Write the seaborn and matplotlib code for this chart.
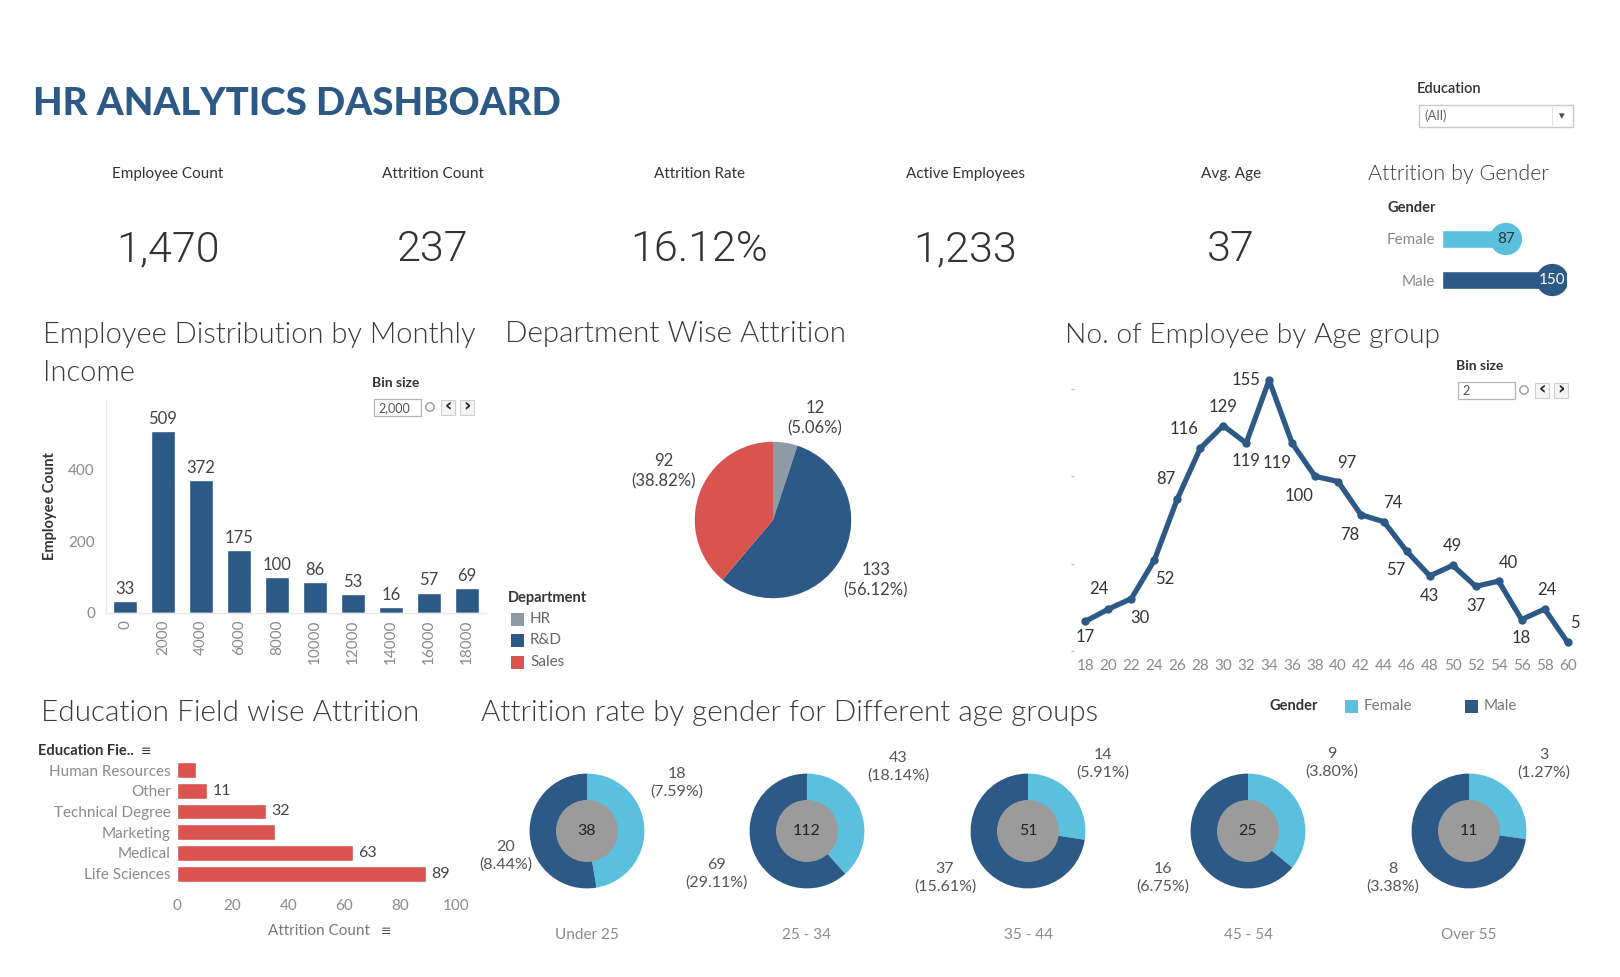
import pandas as pd
import seaborn as sns
import matplotlib.pyplot as plt
from matplotlib.patches import Rectangle, Circle

BLUE = '#2c5985'
LIGHT = '#5bc0de'
RED = '#d9534f'
HR_GREY = '#8e9aa6'
INNER = '#9b9b9b'
DARK = '#333333'

# KPI cards
kpi_names = ['Employee Count', 'Attrition Count', 'Attrition Rate', 'Active Employees', 'Avg. Age']
kpi_values = ['1,470', '237', '16.12%', '1,233', '37']

# attrition by gender
genders = ['Female', 'Male']
gender_attrition = [87, 150]

# monthly income histogram (bin size 2000)
income_bins = ['0', '2000', '4000', '6000', '8000', '10000', '12000', '14000', '16000', '18000']
income_counts = [33, 509, 372, 175, 100, 86, 53, 16, 57, 69]

# department wise attrition
departments = ['HR', 'R&D', 'Sales']
dept_attrition = [12, 133, 92]

# employees by age (bin size 2)
age_bins = [18, 20, 22, 24, 26, 28, 30, 32, 34, 36, 38, 40, 42, 44, 46, 48, 50, 52, 54, 56, 58, 60]
age_counts = [17, 24, 30, 52, 87, 116, 129, 119, 155, 119, 100, 97, 78, 74, 57, 43, 49, 37, 40, 18, 24, 5]

# education field wise attrition
edu_fields = ['Human Resources', 'Other', 'Technical Degree', 'Marketing', 'Medical', 'Life Sciences']
edu_attrition = [7, 11, 32, 35, 63, 89]
edu_shown = [False, True, True, False, True, True]

# attrition by gender per age group
age_groups = ['Under 25', '25 - 34', '35 - 44', '45 - 54', 'Over 55']
female_att = [18, 43, 14, 9, 3]
male_att = [20, 69, 37, 16, 8]

total_attrition = sum(dept_attrition)

sns.set_theme(style='white')
plt.rcParams['font.family'] = ['Lato', 'DejaVu Sans']

W, H = 1620, 977
fig = plt.figure(figsize=(W / 100, H / 100), dpi=100)
fig.patch.set_facecolor('white')
renderer = fig.canvas.get_renderer()

# overlay in pixel coords for texts / widgets, drawn above the chart panels
ov = fig.add_axes([0, 0, 1, 1])
ov.set_xlim(0, W)
ov.set_ylim(H, 0)
ov.axis('off')
ov.patch.set_visible(False)
ov.set_zorder(10)


def panel(x0, y0, x1, y1):
    return fig.add_axes([x0 / W, 1 - y1 / H, (x1 - x0) / W, (y1 - y0) / H])


def txt(x, y, s, size=11, color=DARK, **kw):
    kw.setdefault('ha', 'left')
    kw.setdefault('va', 'center')
    return ov.text(x, y, s, fontsize=size, color=color, **kw)


def fit(t, width):
    # scale font size so the text spans the given pixel width
    bb = t.get_window_extent(renderer=renderer)
    t.set_fontsize(t.get_fontsize() * width / bb.width)


def title(x, y, s, width):
    t = txt(x, y, s, size=20, fontweight=300, color='#3a3a3a')
    fit(t, width)


def bin_widget(x, y, value, box_w):
    txt(x, y, 'Bin size', size=10, fontweight='bold')
    ov.add_patch(Rectangle((x + 2, y + 16), box_w, 17, fc='white', ec='#b5b5b5', lw=0.9))
    txt(x + 6, y + 25, value, size=9, color='#555')
    bx = x + 2 + box_w
    ov.add_patch(Circle((bx + 9, y + 24), 4.2, fc='white', ec='#999', lw=1))
    for i, ch in enumerate(['‹', '›']):
        ov.add_patch(Rectangle((bx + 20 + i * 19, y + 17), 14, 15, fc='#f4f4f4', ec='#cfcfcf', lw=0.8))
        txt(bx + 27 + i * 19, y + 23.5, ch, size=13, color='#222', ha='center', fontweight='bold',
            family=['DejaVu Sans'])


# ---- header ----
t = txt(33, 104, 'HR ANALYTICS DASHBOARD', size=30, color=BLUE, fontweight='black')
fit(t, 526)

txt(1417, 89, 'Education', size=10.5, fontweight='semibold')
ov.add_patch(Rectangle((1419, 104.5), 154, 22.5, fc='white', ec='#c8c8c8', lw=1))
txt(1424, 116, '(All)', size=9.5, color='#666')
ov.plot([1552, 1552], [107, 125], color='#e2e2e2', lw=0.8)
txt(1562, 116, '▾', size=8, color='#444', ha='center', family=['DejaVu Sans'])

kpi_x = [168, 433, 699, 965, 1231]
for x, name, val in zip(kpi_x, kpi_names, kpi_values):
    txt(x, 174, name, size=11, ha='center')
    txt(x, 261, val, size=31, ha='center', va='baseline', family=['Roboto', 'DejaVu Sans'],
        fontweight=300, color='#333333')

# ---- attrition by gender ----
title(1368, 174, 'Attrition by Gender', 182)
txt(1387, 208, 'Gender', size=10.5, fontweight='bold')
ax = panel(1442, 218.5, 1567, 300.5)
gdf = pd.DataFrame({'Gender': genders, 'Attrition': gender_attrition})
sns.barplot(data=gdf, x='Attrition', y='Gender', hue='Gender', palette=[LIGHT, BLUE],
            legend=False, width=0.46, saturation=1, ax=ax)
ax.scatter(gdf['Attrition'], range(len(gdf)), s=540, c=[LIGHT, BLUE], zorder=3, linewidths=0)
for i, v in enumerate(gender_attrition):
    ax.text(v, i, str(v), ha='center', va='center', fontsize=11,
            color=DARK if i == 0 else 'white', zorder=4)
ax.set_xlim(0, 170)
ax.set_ylim(1.5, -0.5)
ax.set_xticks([])
ax.set_xlabel('')
ax.set_ylabel('')
ax.tick_params(axis='y', length=0, pad=5, labelsize=11, labelcolor='#8a8a8a')
sns.despine(ax=ax, left=True, bottom=True)
ax.patch.set_alpha(0)

# ---- monthly income histogram ----
title(43, 335, 'Employee Distribution by Monthly', 433)
title(43, 373, 'Income', 92)
bin_widget(372, 383, '2,000', 47)
ax = panel(106, 400, 486, 613)
sns.barplot(x=income_bins, y=income_counts, color=BLUE, width=0.63, saturation=1, ax=ax)
ax.set_xlim(-0.5, 9.5)
ax.set_ylim(0, 595)
ax.set_yticks([0, 200, 400])
ax.bar_label(ax.containers[0], padding=3, fontsize=12, color='#444444')
ax.tick_params(axis='x', rotation=90, labelsize=11, labelcolor='#8a8a8a', length=0, pad=5)
ax.tick_params(axis='y', labelsize=11, labelcolor='#8a8a8a', length=0, pad=8)
ax.set_ylabel('Employee Count', fontsize=10.5, fontweight='bold', color=DARK, labelpad=8)
sns.despine(ax=ax)
for s in ['left', 'bottom']:
    ax.spines[s].set_color('#e8e8e8')
    ax.spines[s].set_linewidth(1)

# ---- department pie ----
title(505, 334, 'Department Wise Attrition', 341)
ax = panel(773 - 79, 520 - 79, 773 + 79, 520 + 79)
ax.pie(dept_attrition, colors=[HR_GREY, BLUE, RED], startangle=90, counterclock=False,
       radius=1, wedgeprops=dict(linewidth=0))
ax.set_xlim(-1.01, 1.01)
ax.set_ylim(-1.01, 1.01)
dept_label_pos = [(815, 418), (876, 580), (664, 471)]
for (x, y), v in zip(dept_label_pos, dept_attrition):
    txt(x, y, f'{v}\n({v / total_attrition:.2%})', size=12, color='#444', ha='center', linespacing=1.3)
txt(508, 598, 'Department', size=10.5, fontweight='bold')
for i, (d, c) in enumerate(zip(departments, [HR_GREY, BLUE, RED])):
    yy = 619 + i * 21.5
    ov.add_patch(Rectangle((511, yy - 6.5), 13, 13, fc=c, ec='none'))
    txt(530, yy, d, size=11, color='#666')

# ---- employees by age ----
title(1065, 335, 'No. of Employee by Age group', 376)
bin_widget(1456, 366, '2', 57)
ax = panel(1074, 354, 1579, 651)
sns.lineplot(x=age_bins, y=age_counts, color=BLUE, linewidth=3.8, marker='o', markersize=6,
             markeredgewidth=0, ax=ax)
ax.set_xlim(17, 61)
ax.set_ylim(0, 170)
ax.set_xticks(age_bins)
ax.set_yticks([0, 50, 100, 150])
ax.set_yticklabels([])
ax.tick_params(axis='x', labelsize=11, labelcolor='#8a8a8a', length=0, pad=6)
ax.tick_params(axis='y', length=2, width=1, color='#c9b8a8', left=True)
sns.despine(ax=ax, left=True, bottom=True)
age_label_off = [(0, -16), (-10, 20), (9, -19), (10, -19), (-11, 20), (-16, 19), (0, 19), (0, -18),
                 (-23, 0), (-15, -20), (-16, -20), (9, 19), (-11, -20), (9, 19), (-11, -19), (0, -20),
                 (0, 19), (0, -20), (10, 18), (0, -18), (2, 19), (7, 19)]
for a, v, off in zip(age_bins, age_counts, age_label_off):
    ax.annotate(str(v), (a, v), xytext=off, textcoords='offset pixels', ha='center', va='center',
                fontsize=12, color=DARK)

# ---- education field ----
title(41, 713, 'Education Field wise Attrition', 379)
txt(38, 751, 'Education Fie..', size=10.5, fontweight='bold')
txt(141, 752, '≡', size=9, family=['DejaVu Sans'])
ax = panel(176.5, 759.7, 456.5, 884)
sns.barplot(x=edu_attrition, y=edu_fields, color=RED, orient='h', width=0.77, saturation=1, ax=ax)
ax.set_xlim(0, 100)
ax.set_xticks([0, 20, 40, 60, 80, 100])
ax.bar_label(ax.containers[0], labels=[str(v) if s else '' for v, s in zip(edu_attrition, edu_shown)],
             padding=4, fontsize=11.5, color='#444444')
ax.tick_params(axis='y', length=0, pad=4, labelsize=11, labelcolor='#8a8a8a')
ax.tick_params(axis='x', length=0, pad=11, labelsize=11, labelcolor='#8a8a8a')
sns.despine(ax=ax, left=True, bottom=True)
txt(268, 931, 'Attrition Count', size=11, color='#777')
txt(381, 932, '≡', size=9, color='#555', family=['DejaVu Sans'])

# ---- donuts by age group ----
title(481, 713, 'Attrition rate by gender for Different age groups', 618)
txt(1269, 706, 'Gender', size=10.5, fontweight='bold')
ov.add_patch(Rectangle((1345, 699.5), 13, 13, fc=LIGHT, ec='none'))
txt(1364, 706, 'Female', size=11, color='#777')
ov.add_patch(Rectangle((1465, 699.5), 13, 13, fc=BLUE, ec='none'))
txt(1484, 706, 'Male', size=11, color='#777')

donut_x = [587, 807, 1028, 1248, 1469]
donut_y = 831
fem_off = [(90, -48), (91, -64), (75, -67), (84, -68), (75, -67)]
male_off = [(-81, 25), (-91, 43), (-83, 47), (-85, 47), (-76, 47)]
for cx, g, f, m, fo, mo in zip(donut_x, age_groups, female_att, male_att, fem_off, male_off):
    ax = panel(cx - 58, donut_y - 59, cx + 58, donut_y + 59)
    ax.pie([f, m], colors=[LIGHT, BLUE], startangle=90, counterclock=False, radius=1,
           wedgeprops=dict(linewidth=0))
    ax.add_patch(Circle((0, 0), 0.54, color=INNER, lw=0))
    ax.text(0, 0, str(f + m), ha='center', va='center', fontsize=11.5, color='#222')
    ax.set_xlim(-1.01, 1.01)
    ax.set_ylim(-1.01, 1.01)
    txt(cx + fo[0], donut_y + fo[1], f'{f}\n({f / total_attrition:.2%})', size=11.5, color='#555',
        ha='center', linespacing=1.3)
    txt(cx + mo[0], donut_y + mo[1], f'{m}\n({m / total_attrition:.2%})', size=11.5, color='#555',
        ha='center', linespacing=1.3)
    txt(cx, 935, g, size=11, color='#8a8a8a', ha='center')

fig.savefig('out.png', dpi=100, facecolor='white')
